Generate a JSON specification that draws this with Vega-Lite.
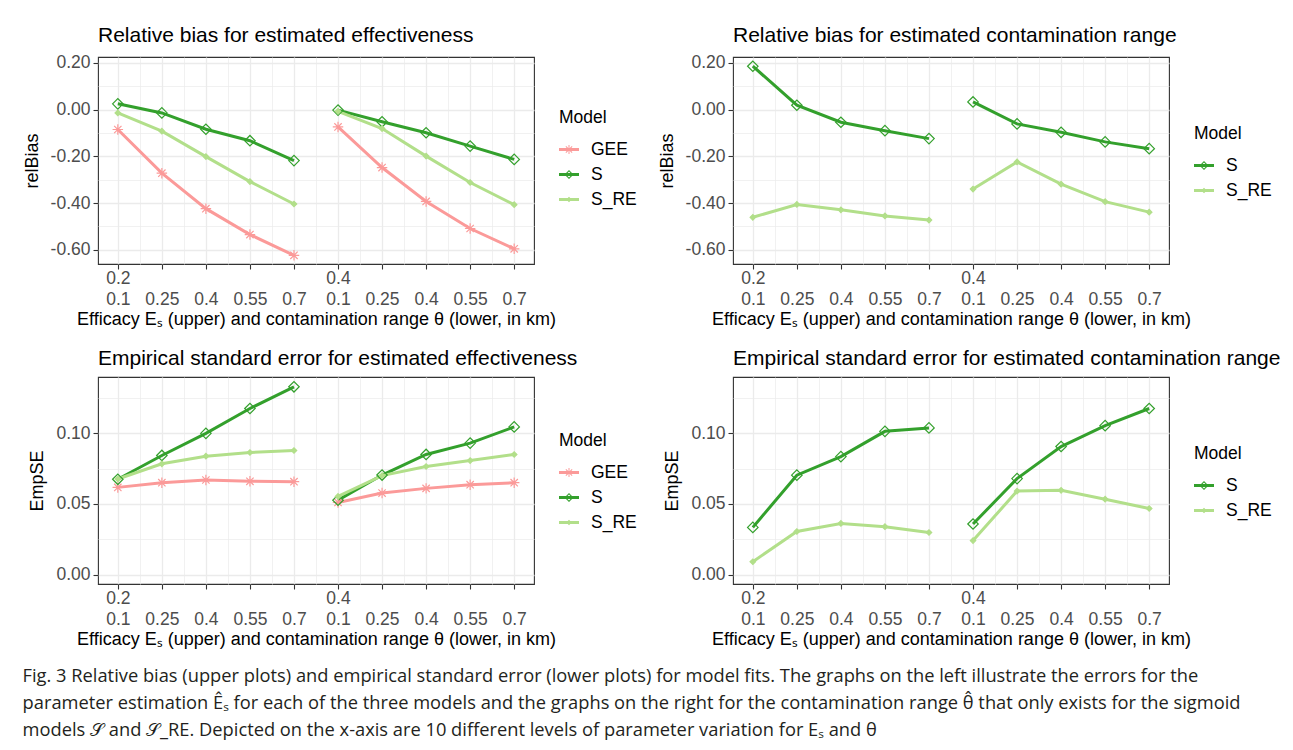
{
  "$schema": "https://vega.github.io/schema/vega-lite/v6.json",
  "background": "white",
  "padding": {"left": 22, "top": 24, "right": 10, "bottom": 4},
  "title": {
    "text": [
      "Fig. 3 Relative bias (upper plots) and empirical standard error (lower plots) for model fits. The graphs on the left illustrate the errors for the",
      "parameter estimation Êₛ for each of the three models and the graphs on the right for the contamination range θ̂ that only exists for the sigmoid",
      "models 𝒮 and 𝒮_RE. Depicted on the x-axis are 10 different levels of parameter variation for Eₛ and θ"
    ],
    "orient": "bottom",
    "anchor": "start",
    "frame": "bounds",
    "font": "Open Sans",
    "fontSize": 18.3,
    "fontWeight": "normal",
    "lineHeight": 27,
    "offset": 19,
    "color": "#231F20"
  },
  "datasets": {
    "bias_eff": [
      {"Model": "GEE", "Es": 0.2, "theta": 0.1, "pos": 1, "value": -0.085},
      {"Model": "GEE", "Es": 0.2, "theta": 0.25, "pos": 2, "value": -0.272},
      {"Model": "GEE", "Es": 0.2, "theta": 0.4, "pos": 3, "value": -0.424},
      {"Model": "GEE", "Es": 0.2, "theta": 0.55, "pos": 4, "value": -0.535},
      {"Model": "GEE", "Es": 0.2, "theta": 0.7, "pos": 5, "value": -0.624},
      {"Model": "GEE", "Es": 0.4, "theta": 0.1, "pos": 6, "value": -0.074},
      {"Model": "GEE", "Es": 0.4, "theta": 0.25, "pos": 7, "value": -0.248},
      {"Model": "GEE", "Es": 0.4, "theta": 0.4, "pos": 8, "value": -0.393},
      {"Model": "GEE", "Es": 0.4, "theta": 0.55, "pos": 9, "value": -0.509},
      {"Model": "GEE", "Es": 0.4, "theta": 0.7, "pos": 10, "value": -0.596},
      {"Model": "S", "Es": 0.2, "theta": 0.1, "pos": 1, "value": 0.025},
      {"Model": "S", "Es": 0.2, "theta": 0.25, "pos": 2, "value": -0.014},
      {"Model": "S", "Es": 0.2, "theta": 0.4, "pos": 3, "value": -0.084},
      {"Model": "S", "Es": 0.2, "theta": 0.55, "pos": 4, "value": -0.133},
      {"Model": "S", "Es": 0.2, "theta": 0.7, "pos": 5, "value": -0.218},
      {"Model": "S", "Es": 0.4, "theta": 0.1, "pos": 6, "value": -0.002},
      {"Model": "S", "Es": 0.4, "theta": 0.25, "pos": 7, "value": -0.052},
      {"Model": "S", "Es": 0.4, "theta": 0.4, "pos": 8, "value": -0.099},
      {"Model": "S", "Es": 0.4, "theta": 0.55, "pos": 9, "value": -0.156},
      {"Model": "S", "Es": 0.4, "theta": 0.7, "pos": 10, "value": -0.213},
      {"Model": "S_RE", "Es": 0.2, "theta": 0.1, "pos": 1, "value": -0.014},
      {"Model": "S_RE", "Es": 0.2, "theta": 0.25, "pos": 2, "value": -0.092},
      {"Model": "S_RE", "Es": 0.2, "theta": 0.4, "pos": 3, "value": -0.201},
      {"Model": "S_RE", "Es": 0.2, "theta": 0.55, "pos": 4, "value": -0.308},
      {"Model": "S_RE", "Es": 0.2, "theta": 0.7, "pos": 5, "value": -0.404},
      {"Model": "S_RE", "Es": 0.4, "theta": 0.1, "pos": 6, "value": -0.007},
      {"Model": "S_RE", "Es": 0.4, "theta": 0.25, "pos": 7, "value": -0.081},
      {"Model": "S_RE", "Es": 0.4, "theta": 0.4, "pos": 8, "value": -0.199},
      {"Model": "S_RE", "Es": 0.4, "theta": 0.55, "pos": 9, "value": -0.312},
      {"Model": "S_RE", "Es": 0.4, "theta": 0.7, "pos": 10, "value": -0.407}
    ],
    "bias_range": [
      {"Model": "S", "Es": 0.2, "theta": 0.1, "pos": 1, "value": 0.186},
      {"Model": "S", "Es": 0.2, "theta": 0.25, "pos": 2, "value": 0.019},
      {"Model": "S", "Es": 0.2, "theta": 0.4, "pos": 3, "value": -0.054},
      {"Model": "S", "Es": 0.2, "theta": 0.55, "pos": 4, "value": -0.09},
      {"Model": "S", "Es": 0.2, "theta": 0.7, "pos": 5, "value": -0.124},
      {"Model": "S", "Es": 0.4, "theta": 0.1, "pos": 6, "value": 0.033},
      {"Model": "S", "Es": 0.4, "theta": 0.25, "pos": 7, "value": -0.061},
      {"Model": "S", "Es": 0.4, "theta": 0.4, "pos": 8, "value": -0.097},
      {"Model": "S", "Es": 0.4, "theta": 0.55, "pos": 9, "value": -0.138},
      {"Model": "S", "Es": 0.4, "theta": 0.7, "pos": 10, "value": -0.167},
      {"Model": "S_RE", "Es": 0.2, "theta": 0.1, "pos": 1, "value": -0.461},
      {"Model": "S_RE", "Es": 0.2, "theta": 0.25, "pos": 2, "value": -0.406},
      {"Model": "S_RE", "Es": 0.2, "theta": 0.4, "pos": 3, "value": -0.429},
      {"Model": "S_RE", "Es": 0.2, "theta": 0.55, "pos": 4, "value": -0.455},
      {"Model": "S_RE", "Es": 0.2, "theta": 0.7, "pos": 5, "value": -0.473},
      {"Model": "S_RE", "Es": 0.4, "theta": 0.1, "pos": 6, "value": -0.34},
      {"Model": "S_RE", "Es": 0.4, "theta": 0.25, "pos": 7, "value": -0.224},
      {"Model": "S_RE", "Es": 0.4, "theta": 0.4, "pos": 8, "value": -0.319},
      {"Model": "S_RE", "Es": 0.4, "theta": 0.55, "pos": 9, "value": -0.394},
      {"Model": "S_RE", "Es": 0.4, "theta": 0.7, "pos": 10, "value": -0.439}
    ],
    "se_eff": [
      {"Model": "GEE", "Es": 0.2, "theta": 0.1, "pos": 1, "value": 0.0617},
      {"Model": "GEE", "Es": 0.2, "theta": 0.25, "pos": 2, "value": 0.065},
      {"Model": "GEE", "Es": 0.2, "theta": 0.4, "pos": 3, "value": 0.0669},
      {"Model": "GEE", "Es": 0.2, "theta": 0.55, "pos": 4, "value": 0.066},
      {"Model": "GEE", "Es": 0.2, "theta": 0.7, "pos": 5, "value": 0.0657},
      {"Model": "GEE", "Es": 0.4, "theta": 0.1, "pos": 6, "value": 0.0511},
      {"Model": "GEE", "Es": 0.4, "theta": 0.25, "pos": 7, "value": 0.0577},
      {"Model": "GEE", "Es": 0.4, "theta": 0.4, "pos": 8, "value": 0.061},
      {"Model": "GEE", "Es": 0.4, "theta": 0.55, "pos": 9, "value": 0.0636},
      {"Model": "GEE", "Es": 0.4, "theta": 0.7, "pos": 10, "value": 0.065},
      {"Model": "S", "Es": 0.2, "theta": 0.1, "pos": 1, "value": 0.0674},
      {"Model": "S", "Es": 0.2, "theta": 0.25, "pos": 2, "value": 0.0842},
      {"Model": "S", "Es": 0.2, "theta": 0.4, "pos": 3, "value": 0.0998},
      {"Model": "S", "Es": 0.2, "theta": 0.55, "pos": 4, "value": 0.1173},
      {"Model": "S", "Es": 0.2, "theta": 0.7, "pos": 5, "value": 0.1326},
      {"Model": "S", "Es": 0.4, "theta": 0.1, "pos": 6, "value": 0.0527},
      {"Model": "S", "Es": 0.4, "theta": 0.25, "pos": 7, "value": 0.0704},
      {"Model": "S", "Es": 0.4, "theta": 0.4, "pos": 8, "value": 0.0849},
      {"Model": "S", "Es": 0.4, "theta": 0.55, "pos": 9, "value": 0.0929},
      {"Model": "S", "Es": 0.4, "theta": 0.7, "pos": 10, "value": 0.1043},
      {"Model": "S_RE", "Es": 0.2, "theta": 0.1, "pos": 1, "value": 0.0676},
      {"Model": "S_RE", "Es": 0.2, "theta": 0.25, "pos": 2, "value": 0.0783},
      {"Model": "S_RE", "Es": 0.2, "theta": 0.4, "pos": 3, "value": 0.0837},
      {"Model": "S_RE", "Es": 0.2, "theta": 0.55, "pos": 4, "value": 0.0863},
      {"Model": "S_RE", "Es": 0.2, "theta": 0.7, "pos": 5, "value": 0.0877},
      {"Model": "S_RE", "Es": 0.4, "theta": 0.1, "pos": 6, "value": 0.0553},
      {"Model": "S_RE", "Es": 0.4, "theta": 0.25, "pos": 7, "value": 0.07},
      {"Model": "S_RE", "Es": 0.4, "theta": 0.4, "pos": 8, "value": 0.0764},
      {"Model": "S_RE", "Es": 0.4, "theta": 0.55, "pos": 9, "value": 0.0806},
      {"Model": "S_RE", "Es": 0.4, "theta": 0.7, "pos": 10, "value": 0.0849}
    ],
    "se_range": [
      {"Model": "S", "Es": 0.2, "theta": 0.1, "pos": 1, "value": 0.0335},
      {"Model": "S", "Es": 0.2, "theta": 0.25, "pos": 2, "value": 0.0703},
      {"Model": "S", "Es": 0.2, "theta": 0.4, "pos": 3, "value": 0.0834},
      {"Model": "S", "Es": 0.2, "theta": 0.55, "pos": 4, "value": 0.1012},
      {"Model": "S", "Es": 0.2, "theta": 0.7, "pos": 5, "value": 0.1036},
      {"Model": "S", "Es": 0.4, "theta": 0.1, "pos": 6, "value": 0.0359},
      {"Model": "S", "Es": 0.4, "theta": 0.25, "pos": 7, "value": 0.0679},
      {"Model": "S", "Es": 0.4, "theta": 0.4, "pos": 8, "value": 0.0905},
      {"Model": "S", "Es": 0.4, "theta": 0.55, "pos": 9, "value": 0.1052},
      {"Model": "S", "Es": 0.4, "theta": 0.7, "pos": 10, "value": 0.1173},
      {"Model": "S_RE", "Es": 0.2, "theta": 0.1, "pos": 1, "value": 0.0093},
      {"Model": "S_RE", "Es": 0.2, "theta": 0.25, "pos": 2, "value": 0.0306},
      {"Model": "S_RE", "Es": 0.2, "theta": 0.4, "pos": 3, "value": 0.0363},
      {"Model": "S_RE", "Es": 0.2, "theta": 0.55, "pos": 4, "value": 0.034},
      {"Model": "S_RE", "Es": 0.2, "theta": 0.7, "pos": 5, "value": 0.0299},
      {"Model": "S_RE", "Es": 0.4, "theta": 0.1, "pos": 6, "value": 0.0242},
      {"Model": "S_RE", "Es": 0.4, "theta": 0.25, "pos": 7, "value": 0.0591},
      {"Model": "S_RE", "Es": 0.4, "theta": 0.4, "pos": 8, "value": 0.0596},
      {"Model": "S_RE", "Es": 0.4, "theta": 0.55, "pos": 9, "value": 0.0534},
      {"Model": "S_RE", "Es": 0.4, "theta": 0.7, "pos": 10, "value": 0.0468}
    ]
  },
  "columns": 2,
  "spacing": {"row": 17, "column": 19},
  "concat": [
    {
      "width": 436, "height": 207,
      "data": {"name": "bias_eff"},
      "title": {"text": "Relative bias for estimated effectiveness"},
      "layer": [
        {
          "mark": {"type": "line", "strokeWidth": 3},
          "encoding": {
            "x": {"field": "pos", "type": "quantitative", "scale": {"domain": [0.55, 10.45], "nice": false, "zero": false},
              "axis": {"values": [1,2,3,4,5,6,7,8,9,10], "labelExpr": "[datum.value == 1 ? '0.2' : datum.value == 6 ? '0.4' : '', ['0.1','0.25','0.4','0.55','0.7'][(datum.value - 1) % 5]]", "title": "Efficacy Eₛ (upper) and contamination range θ (lower, in km)", "grid": true}},
            "y": {"field": "value", "type": "quantitative", "scale": {"domain": [-0.661, 0.2255], "nice": false, "zero": false},
              "axis": {"values": [-0.6,-0.4,-0.2,0,0.2], "labelExpr": "replace(format(datum.value, '.2f'), '−', '-')", "title": "relBias", "grid": true}},
            "stroke": {"condition": [{"test": "datum.Model === 'GEE'", "value": "#FB9A99"}, {"test": "datum.Model === 'S'", "value": "#33A02C"}], "value": "#B2DF8A"},
            "detail": [{"field": "Model", "type": "nominal"}, {"field": "Es", "type": "nominal"}]
          }
        },
        {
          "mark": {"type": "point", "opacity": 1, "strokeWidth": 1.2},
          "encoding": {
            "x": {"field": "pos", "type": "quantitative", "axis": {"orient": "top", "values": [1.5,2.5,3.5,4.5,5.5,6.5,7.5,8.5,9.5], "grid": true, "gridWidth": 0.7, "labels": false, "ticks": false, "domain": false, "title": null}},
            "y": {"field": "value", "type": "quantitative", "axis": {"orient": "right", "values": [-0.5,-0.3,-0.1,0.1], "grid": true, "gridWidth": 0.7, "labels": false, "ticks": false, "domain": false, "title": null}},
            "shape": {"condition": {"test": "datum.Model === 'GEE'", "value": "M-1,0L1,0M0,-1L0,1M-0.7,-0.7L0.7,0.7M-0.7,0.7L0.7,-0.7"}, "value": "diamond"},
            "stroke": {"condition": [{"test": "datum.Model === 'GEE'", "value": "#FB9A99"}, {"test": "datum.Model === 'S'", "value": "#33A02C"}], "value": "#B2DF8A"},
            "fill": {"condition": {"test": "datum.Model === 'S_RE'", "value": "#B2DF8A"}, "value": "transparent"},
            "size": {"condition": {"test": "datum.Model === 'S_RE'", "value": 30}, "value": 110}
          }
        },
        {
          "mark": {"type": "point", "opacity": 0, "filled": true, "stroke": "transparent"},
          "encoding": {
            "x": {"field": "pos", "type": "quantitative", "axis": null},
            "y": {"field": "value", "type": "quantitative", "axis": null},
            "shape": {"field": "Model", "type": "nominal", "scale": {"domain": ["GEE","S","S_RE"], "range": [
              "M-1,-0.15H1V0.15H-1ZM-0.05,-0.45H0.05V0.45H-0.05ZM-0.28,-0.35L0.35,0.28L0.28,0.35L-0.35,-0.28ZM-0.35,0.28L0.28,-0.35L0.35,-0.28L-0.28,0.35Z",
              "M-1,-0.15H1V0.15H-1ZM0,-0.45L0.45,0L0,0.45L-0.45,0ZM0,-0.3L-0.3,0L0,0.3L0.3,0Z",
              "M-1,-0.15H1V0.15H-1ZM0,-0.28L0.28,0L0,0.28L-0.28,0Z"]},
              "legend": {"orient": "none", "legendX": 461, "legendY": 52}},
            "fill": {"field": "Model", "type": "nominal", "scale": {"domain": ["GEE","S","S_RE"], "range": ["#FB9A99","#33A02C","#B2DF8A"]},
              "legend": {"orient": "none", "legendX": 461, "legendY": 52}}
          }
        }
      ],
      "resolve": {"axis": {"x": "independent", "y": "independent"}}
    },
    {
      "width": 436, "height": 207,
      "data": {"name": "bias_range"},
      "title": {"text": "Relative bias for estimated contamination range"},
      "layer": [
        {
          "mark": {"type": "line", "strokeWidth": 3},
          "encoding": {
            "x": {"field": "pos", "type": "quantitative", "scale": {"domain": [0.55, 10.45], "nice": false, "zero": false},
              "axis": {"values": [1,2,3,4,5,6,7,8,9,10], "labelExpr": "[datum.value == 1 ? '0.2' : datum.value == 6 ? '0.4' : '', ['0.1','0.25','0.4','0.55','0.7'][(datum.value - 1) % 5]]", "title": "Efficacy Eₛ (upper) and contamination range θ (lower, in km)", "grid": true}},
            "y": {"field": "value", "type": "quantitative", "scale": {"domain": [-0.661, 0.2255], "nice": false, "zero": false},
              "axis": {"values": [-0.6,-0.4,-0.2,0,0.2], "labelExpr": "replace(format(datum.value, '.2f'), '−', '-')", "title": "relBias", "grid": true}},
            "stroke": {"condition": {"test": "datum.Model === 'S'", "value": "#33A02C"}, "value": "#B2DF8A"},
            "detail": [{"field": "Model", "type": "nominal"}, {"field": "Es", "type": "nominal"}]
          }
        },
        {
          "mark": {"type": "point", "opacity": 1, "strokeWidth": 1.2},
          "encoding": {
            "x": {"field": "pos", "type": "quantitative", "axis": {"orient": "top", "values": [1.5,2.5,3.5,4.5,5.5,6.5,7.5,8.5,9.5], "grid": true, "gridWidth": 0.7, "labels": false, "ticks": false, "domain": false, "title": null}},
            "y": {"field": "value", "type": "quantitative", "axis": {"orient": "right", "values": [-0.5,-0.3,-0.1,0.1], "grid": true, "gridWidth": 0.7, "labels": false, "ticks": false, "domain": false, "title": null}},
            "shape": {"value": "diamond"},
            "stroke": {"condition": {"test": "datum.Model === 'S'", "value": "#33A02C"}, "value": "#B2DF8A"},
            "fill": {"condition": {"test": "datum.Model === 'S_RE'", "value": "#B2DF8A"}, "value": "transparent"},
            "size": {"condition": {"test": "datum.Model === 'S_RE'", "value": 30}, "value": 110}
          }
        },
        {
          "mark": {"type": "point", "opacity": 0, "filled": true, "stroke": "transparent"},
          "encoding": {
            "x": {"field": "pos", "type": "quantitative", "axis": null},
            "y": {"field": "value", "type": "quantitative", "axis": null},
            "shape": {"field": "Model", "type": "nominal", "scale": {"domain": ["S","S_RE"], "range": [
              "M-1,-0.15H1V0.15H-1ZM0,-0.45L0.45,0L0,0.45L-0.45,0ZM0,-0.3L-0.3,0L0,0.3L0.3,0Z",
              "M-1,-0.15H1V0.15H-1ZM0,-0.28L0.28,0L0,0.28L-0.28,0Z"]},
              "legend": {"orient": "none", "legendX": 461, "legendY": 68}},
            "fill": {"field": "Model", "type": "nominal", "scale": {"domain": ["S","S_RE"], "range": ["#33A02C","#B2DF8A"]},
              "legend": {"orient": "none", "legendX": 461, "legendY": 68}}
          }
        }
      ],
      "resolve": {"axis": {"x": "independent", "y": "independent"}}
    },
    {
      "width": 436, "height": 207,
      "data": {"name": "se_eff"},
      "title": {"text": "Empirical standard error for estimated effectiveness"},
      "layer": [
        {
          "mark": {"type": "line", "strokeWidth": 3},
          "encoding": {
            "x": {"field": "pos", "type": "quantitative", "scale": {"domain": [0.55, 10.45], "nice": false, "zero": false},
              "axis": {"values": [1,2,3,4,5,6,7,8,9,10], "labelExpr": "[datum.value == 1 ? '0.2' : datum.value == 6 ? '0.4' : '', ['0.1','0.25','0.4','0.55','0.7'][(datum.value - 1) % 5]]", "title": "Efficacy Eₛ (upper) and contamination range θ (lower, in km)", "grid": true}},
            "y": {"field": "value", "type": "quantitative", "scale": {"domain": [-0.0064, 0.1395], "nice": false, "zero": false},
              "axis": {"values": [0, 0.05, 0.1], "labelExpr": "format(datum.value, '.2f')", "title": "EmpSE", "grid": true}},
            "stroke": {"condition": [{"test": "datum.Model === 'GEE'", "value": "#FB9A99"}, {"test": "datum.Model === 'S'", "value": "#33A02C"}], "value": "#B2DF8A"},
            "detail": [{"field": "Model", "type": "nominal"}, {"field": "Es", "type": "nominal"}]
          }
        },
        {
          "mark": {"type": "point", "opacity": 1, "strokeWidth": 1.2},
          "encoding": {
            "x": {"field": "pos", "type": "quantitative", "axis": {"orient": "top", "values": [1.5,2.5,3.5,4.5,5.5,6.5,7.5,8.5,9.5], "grid": true, "gridWidth": 0.7, "labels": false, "ticks": false, "domain": false, "title": null}},
            "y": {"field": "value", "type": "quantitative", "axis": {"orient": "right", "values": [0.025, 0.075, 0.125], "grid": true, "gridWidth": 0.7, "labels": false, "ticks": false, "domain": false, "title": null}},
            "shape": {"condition": {"test": "datum.Model === 'GEE'", "value": "M-1,0L1,0M0,-1L0,1M-0.7,-0.7L0.7,0.7M-0.7,0.7L0.7,-0.7"}, "value": "diamond"},
            "stroke": {"condition": [{"test": "datum.Model === 'GEE'", "value": "#FB9A99"}, {"test": "datum.Model === 'S'", "value": "#33A02C"}], "value": "#B2DF8A"},
            "fill": {"condition": {"test": "datum.Model === 'S_RE'", "value": "#B2DF8A"}, "value": "transparent"},
            "size": {"condition": {"test": "datum.Model === 'S_RE'", "value": 30}, "value": 110}
          }
        },
        {
          "mark": {"type": "point", "opacity": 0, "filled": true, "stroke": "transparent"},
          "encoding": {
            "x": {"field": "pos", "type": "quantitative", "axis": null},
            "y": {"field": "value", "type": "quantitative", "axis": null},
            "shape": {"field": "Model", "type": "nominal", "scale": {"domain": ["GEE","S","S_RE"], "range": [
              "M-1,-0.15H1V0.15H-1ZM-0.05,-0.45H0.05V0.45H-0.05ZM-0.28,-0.35L0.35,0.28L0.28,0.35L-0.35,-0.28ZM-0.35,0.28L0.28,-0.35L0.35,-0.28L-0.28,0.35Z",
              "M-1,-0.15H1V0.15H-1ZM0,-0.45L0.45,0L0,0.45L-0.45,0ZM0,-0.3L-0.3,0L0,0.3L0.3,0Z",
              "M-1,-0.15H1V0.15H-1ZM0,-0.28L0.28,0L0,0.28L-0.28,0Z"]},
              "legend": {"orient": "none", "legendX": 461, "legendY": 55}},
            "fill": {"field": "Model", "type": "nominal", "scale": {"domain": ["GEE","S","S_RE"], "range": ["#FB9A99","#33A02C","#B2DF8A"]},
              "legend": {"orient": "none", "legendX": 461, "legendY": 55}}
          }
        }
      ],
      "resolve": {"axis": {"x": "independent", "y": "independent"}}
    },
    {
      "width": 436, "height": 207,
      "data": {"name": "se_range"},
      "title": {"text": "Empirical standard error for estimated contamination range"},
      "layer": [
        {
          "mark": {"type": "line", "strokeWidth": 3},
          "encoding": {
            "x": {"field": "pos", "type": "quantitative", "scale": {"domain": [0.55, 10.45], "nice": false, "zero": false},
              "axis": {"values": [1,2,3,4,5,6,7,8,9,10], "labelExpr": "[datum.value == 1 ? '0.2' : datum.value == 6 ? '0.4' : '', ['0.1','0.25','0.4','0.55','0.7'][(datum.value - 1) % 5]]", "title": "Efficacy Eₛ (upper) and contamination range θ (lower, in km)", "grid": true}},
            "y": {"field": "value", "type": "quantitative", "scale": {"domain": [-0.0064, 0.1395], "nice": false, "zero": false},
              "axis": {"values": [0, 0.05, 0.1], "labelExpr": "format(datum.value, '.2f')", "title": "EmpSE", "grid": true}},
            "stroke": {"condition": {"test": "datum.Model === 'S'", "value": "#33A02C"}, "value": "#B2DF8A"},
            "detail": [{"field": "Model", "type": "nominal"}, {"field": "Es", "type": "nominal"}]
          }
        },
        {
          "mark": {"type": "point", "opacity": 1, "strokeWidth": 1.2},
          "encoding": {
            "x": {"field": "pos", "type": "quantitative", "axis": {"orient": "top", "values": [1.5,2.5,3.5,4.5,5.5,6.5,7.5,8.5,9.5], "grid": true, "gridWidth": 0.7, "labels": false, "ticks": false, "domain": false, "title": null}},
            "y": {"field": "value", "type": "quantitative", "axis": {"orient": "right", "values": [0.025, 0.075, 0.125], "grid": true, "gridWidth": 0.7, "labels": false, "ticks": false, "domain": false, "title": null}},
            "shape": {"value": "diamond"},
            "stroke": {"condition": {"test": "datum.Model === 'S'", "value": "#33A02C"}, "value": "#B2DF8A"},
            "fill": {"condition": {"test": "datum.Model === 'S_RE'", "value": "#B2DF8A"}, "value": "transparent"},
            "size": {"condition": {"test": "datum.Model === 'S_RE'", "value": 30}, "value": 110}
          }
        },
        {
          "mark": {"type": "point", "opacity": 0, "filled": true, "stroke": "transparent"},
          "encoding": {
            "x": {"field": "pos", "type": "quantitative", "axis": null},
            "y": {"field": "value", "type": "quantitative", "axis": null},
            "shape": {"field": "Model", "type": "nominal", "scale": {"domain": ["S","S_RE"], "range": [
              "M-1,-0.15H1V0.15H-1ZM0,-0.45L0.45,0L0,0.45L-0.45,0ZM0,-0.3L-0.3,0L0,0.3L0.3,0Z",
              "M-1,-0.15H1V0.15H-1ZM0,-0.28L0.28,0L0,0.28L-0.28,0Z"]},
              "legend": {"orient": "none", "legendX": 461, "legendY": 68}},
            "fill": {"field": "Model", "type": "nominal", "scale": {"domain": ["S","S_RE"], "range": ["#33A02C","#B2DF8A"]},
              "legend": {"orient": "none", "legendX": 461, "legendY": 68}}
          }
        }
      ],
      "resolve": {"axis": {"x": "independent", "y": "independent"}}
    }
  ],
  "resolve": {
    "scale": {"shape": "independent", "fill": "independent"},
    "legend": {"shape": "independent", "fill": "independent"}
  },
  "config": {
    "font": "Liberation Sans",
    "view": {"stroke": "#333333", "strokeWidth": 1.1},
    "axis": {
      "labelFont": "Liberation Sans", "labelFontSize": 17.5, "labelColor": "#4D4D4D",
      "titleFont": "Liberation Sans", "titleFontSize": 18, "titleFontWeight": "normal", "titleColor": "#000000",
      "tickColor": "#333333", "tickSize": 5, "tickWidth": 1.1, "domain": false,
      "gridColor": "#EBEBEB", "gridWidth": 1.3, "labelPadding": 0, "titlePadding": 3,
      "labelFlush": false, "labelOverlap": false, "labelLineHeight": 21
    },
    "axisY": {"titlePadding": 9, "labelPadding": 3},
    "title": {"fontSize": 21, "fontWeight": "normal", "anchor": "start", "frame": "group", "color": "#000000", "offset": 8},
    "legend": {
      "titleFont": "Liberation Sans", "titleFontSize": 17.5, "titleFontWeight": "normal", "titleColor": "#000000",
      "labelFont": "Liberation Sans", "labelFontSize": 17.5, "labelColor": "#000000",
      "symbolSize": 400, "symbolOpacity": 1, "rowPadding": 6, "titlePadding": 13, "labelOffset": 12, "symbolStrokeWidth": 0
    }
  }
}
